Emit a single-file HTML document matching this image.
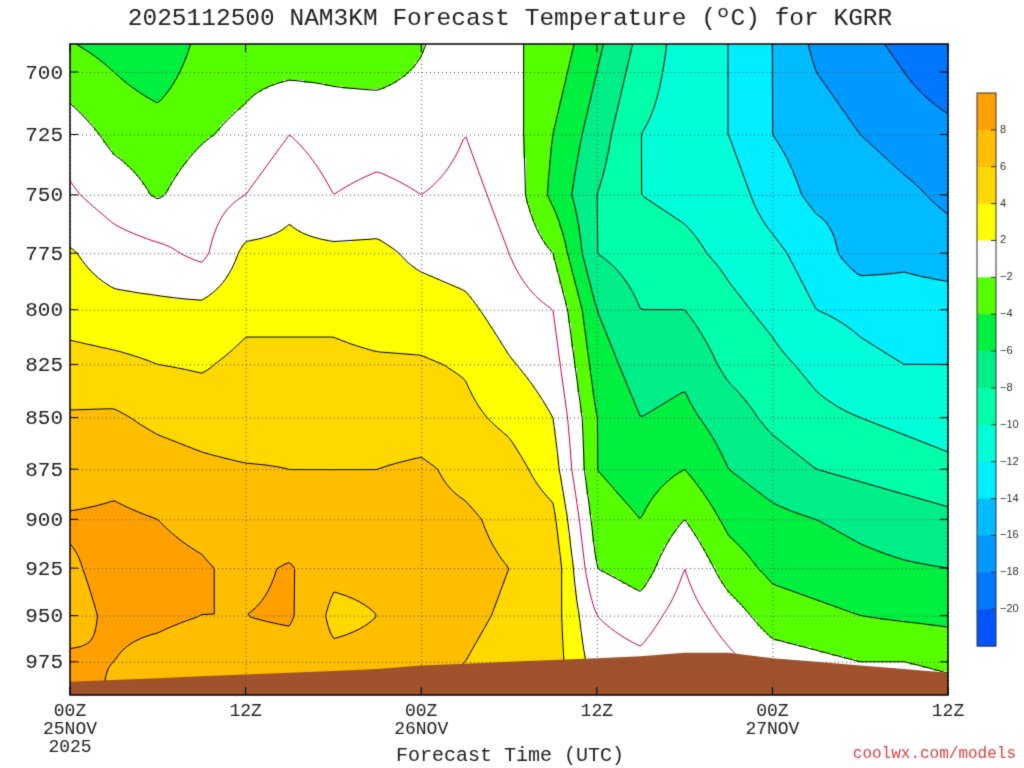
<!DOCTYPE html>
<html><head><meta charset="utf-8">
<style>
body{margin:0;background:#fff;width:1024px;height:768px;overflow:hidden;font-family:"Liberation Mono",monospace;}
#c{position:absolute;left:0;top:0;}
</style></head>
<body>
<canvas id="c" width="1024" height="768"></canvas>
<script>
// ---- data ----
const hours = [0,3,6,9,12,15,18,21,24,27,30,33,36,39,42,45,48,51,54,57,60];
const levels = [700,725,750,775,800,825,850,875,900,925,950,975];
const temps = [
 [-3,-1,0.3,2.2,3,4.8,6.2,7,8.2,7.8,7.5,8.2],
 [-4,-2.5,-1,1,2.6,4.5,6.3,7.5,8.3,8.5,8.3,8],
 [-5,-3,-2.2,0.5,2.5,4,5.5,7,8,8.5,8.3,7.5],
 [-3,-2.2,-1,-0.5,2.5,3.8,5,6.5,7.5,8.2,8,7],
 [-2.5,-1.5,0,2.5,3.5,4.5,4.5,6.2,6.5,7.5,8,7],
 [-2.3,0,1.5,2.5,3.5,4.5,5,6,6.5,8.2,8.3,7],
 [-2.3,-1,0,2.5,3.5,4.5,5,6,6.3,6.5,5.5,6.5],
 [-2.5,-0.8,0.5,2.5,3,4.3,5,6,6.5,6.5,6,6.5],
 [-1.8,-1,0,1.5,3,4.2,5,6.3,6.5,6.5,6,6.3],
 [-0.5,0,0.5,1,2.5,3.8,4.5,5.5,6.3,6.5,6.3,6],
 [-1.5,-1,-0.5,0,1,2.2,3.5,4.8,5.5,6,5.8,5.5],
 [-3,-4,-4.5,-2,0,1,2,3,4.5,5.5,5,5],
 [-6,-7,-8,-8,-6,-5,-4,-4,-3,-2,0,1],
 [-9,-10,-10,-9,-8,-7,-6,-5,-4,-3,-1,0.5],
 [-11,-11,-10.5,-9.5,-8,-6.5,-5.5,-4,-2,0,1,2],
 [-12,-12,-11,-10.5,-9.5,-8.5,-7,-6,-4.5,-3,-1,0.5],
 [-14,-14,-13,-11.5,-10.5,-9.5,-8.5,-7,-5.5,-4.5,-3,-1],
 [-16,-15,-14.5,-13,-12,-10.5,-9.5,-8,-6,-5,-3.5,-1.5],
 [-17,-16,-14.5,-15,-12.5,-11.5,-10,-8.5,-6.5,-5.5,-4,-2],
 [-18,-17,-15.5,-14.5,-13,-12,-10.5,-9,-7,-5.8,-4.3,-2],
 [-19,-17.5,-16.5,-15,-13,-12,-11,-9.5,-7.5,-6,-4.5,-2.5]
];
const surfacePressure = [986,985,984,983,982,981,980,979,977,976,975,974,973,972,970,970,973,975,977,979,981];
const yTicks = [700,725,750,775,800,825,850,875,900,925,950,975];
const xTicks = [0,12,24,36,48,60];
const xLabels = [["00Z","25NOV","2025"],["12Z"],["00Z","26NOV"],["12Z"],["00Z","27NOV"],["12Z"]];
const cbLevels = [8,6,4,2,-2,-4,-6,-8,-10,-12,-14,-16,-18,-20];
const cbColors = ["#ffa000","#ffbe00","#ffd800","#ffff00","#ffffff","#55ff00","#00f040","#00ee88","#00ffa8","#00ffd8","#00eeff","#00bbff","#0099ff","#0077ff","#0055ff"];

// ---- axes ----
const X0=70,X1=948,Y0=44,Y1=695;
const xs = h => X0 + (h/60)*(X1-X0);
const ys = p => 72 + (Math.log(p)-Math.log(700))*1780;
const pFromY = y => Math.exp(Math.log(700)+(y-72)/1780);

function tempAt(h,p){
  let i=Math.min(Math.floor(h/3),hours.length-2); let fx=(h-hours[i])/3;
  let lp=Math.log(p);
  let j=0; while(j<levels.length-2 && Math.log(levels[j+1])<lp) j++;
  let fy=(lp-Math.log(levels[j]))/(Math.log(levels[j+1])-Math.log(levels[j]));
  const a=temps[i][j],b=temps[i+1][j],c=temps[i][j+1],d=temps[i+1][j+1];
  return (a*(1-fx)+b*fx)*(1-fy)+(c*(1-fx)+d*fx)*fy;
}
function colorFor(t){
  for(let k=0;k<cbLevels.length;k++){ if(t>=cbLevels[k]) return cbColors[k]; }
  return cbColors[cbColors.length-1];
}
const cv=document.getElementById('c'); const ctx=cv.getContext('2d');
ctx.fillStyle='#fff'; ctx.fillRect(0,0,1024,768);
const step=3;
const nx=Math.ceil((X1-X0)/step), ny=Math.ceil((Y1-Y0)/step);
const grid=[];
for(let gx=0;gx<=nx;gx++){ grid[gx]=[]; for(let gy=0;gy<=ny;gy++){
  const x=X0+gx*step, y=Y0+gy*step;
  grid[gx][gy]=tempAt(Math.min(60,(x-X0)/(X1-X0)*60), pFromY(y));
}}
ctx.save(); ctx.beginPath(); ctx.rect(X0,Y0,X1-X0,Y1-Y0); ctx.clip();
for(let gx=0;gx<nx;gx++) for(let gy=0;gy<ny;gy++){
  const t=(grid[gx][gy]+grid[gx+1][gy]+grid[gx][gy+1]+grid[gx+1][gy+1])/4;
  ctx.fillStyle=colorFor(t);
  ctx.fillRect(X0+gx*step,Y0+gy*step,step+0.5,step+0.5);
}
const cLevels=[-20,-18,-16,-14,-12,-10,-8,-6,-4,-2,0,2,4,6,8];
ctx.lineWidth=1;
cLevels.forEach(L=>{
  ctx.strokeStyle = L===0 ? '#c8005a' : '#000';
  ctx.beginPath();
  for(let gx=0;gx<nx;gx++) for(let gy=0;gy<ny;gy++){
    const v=[grid[gx][gy],grid[gx+1][gy],grid[gx+1][gy+1],grid[gx][gy+1]];
    const px=[0,1,1,0],py=[0,0,1,1]; const pts=[];
    for(let e=0;e<4;e++){const a=v[e],b=v[(e+1)%4];
      if((a<L)!==(b<L)){const f=(L-a)/(b-a);
        pts.push([X0+(gx+px[e]+f*(px[(e+1)%4]-px[e]))*step, Y0+(gy+py[e]+f*(py[(e+1)%4]-py[e]))*step]);}}
    for(let k=0;k+1<pts.length;k+=2){ctx.moveTo(pts[k][0],pts[k][1]);ctx.lineTo(pts[k+1][0],pts[k+1][1]);}
  }
  ctx.stroke();
});
// terrain
ctx.fillStyle='#a0522d'; ctx.beginPath(); ctx.moveTo(X0,Y1);
hours.forEach((h,i)=>ctx.lineTo(xs(h),ys(surfacePressure[i])));
ctx.lineTo(X1,Y1); ctx.closePath(); ctx.fill();
ctx.restore();
// grid lines
ctx.strokeStyle='#555'; ctx.setLineDash([1,3]);
yTicks.forEach(p=>{ctx.beginPath();ctx.moveTo(X0,ys(p)+0.5);ctx.lineTo(X1,ys(p)+0.5);ctx.stroke();});
xTicks.forEach(h=>{ctx.beginPath();ctx.moveTo(xs(h)+0.5,Y0);ctx.lineTo(xs(h)+0.5,Y1);ctx.stroke();});
ctx.setLineDash([]);
ctx.strokeStyle='#000'; ctx.lineWidth=1.5; ctx.strokeRect(X0,Y0,X1-X0,Y1-Y0);
// ticks and labels
ctx.fillStyle='#222'; ctx.font='21px "Liberation Mono", monospace'; ctx.textAlign='right'; ctx.textBaseline='middle';
ctx.lineWidth=1;
yTicks.forEach(p=>{ctx.fillText(String(p),63,ys(p)+1);ctx.beginPath();ctx.moveTo(X0,ys(p));ctx.lineTo(X0+8,ys(p));ctx.moveTo(X1,ys(p));ctx.lineTo(X1-8,ys(p));ctx.stroke();});
ctx.textAlign='center'; ctx.textBaseline='top';
ctx.font='18px "Liberation Mono", monospace';
xTicks.forEach((h,i)=>{xLabels[i].forEach((s,k)=>ctx.fillText(s,xs(h),702+k*18));
  ctx.beginPath();ctx.moveTo(xs(h),Y1);ctx.lineTo(xs(h),Y1-8);ctx.moveTo(xs(h),Y0);ctx.lineTo(xs(h),Y0+8);ctx.stroke();});
ctx.font='24.5px "Liberation Mono", monospace';
ctx.fillText('2025112500 NAM3KM Forecast Temperature (\u00baC) for KGRR',510,6);
ctx.font='20px "Liberation Mono", monospace';
ctx.fillText('Forecast Time (UTC)',510,746);
ctx.font='16px "Liberation Mono", monospace'; ctx.fillStyle='#e04040'; ctx.textAlign='right';
ctx.fillText('coolwx.com/models',1016,746);
// colorbar
const cbX=977,cbY=93,cbW=19,cbH=553,bh=cbH/cbColors.length;
cbColors.forEach((c,k)=>{ctx.fillStyle=c;ctx.fillRect(cbX,cbY+k*bh,cbW,bh+0.5);});
ctx.strokeStyle='#333';ctx.strokeRect(cbX,cbY,cbW,cbH);
ctx.fillStyle='#333';ctx.font='11px "Liberation Sans", sans-serif';ctx.textAlign='left';ctx.textBaseline='middle';
cbLevels.forEach((l,k)=>{const y=cbY+(k+1)*bh;ctx.beginPath();ctx.moveTo(cbX+cbW-5,y);ctx.lineTo(cbX+cbW,y);ctx.stroke();
  ctx.fillText(l<0?'\u2212'+(-l):String(l),1000,y);});
</script>
</body></html>
